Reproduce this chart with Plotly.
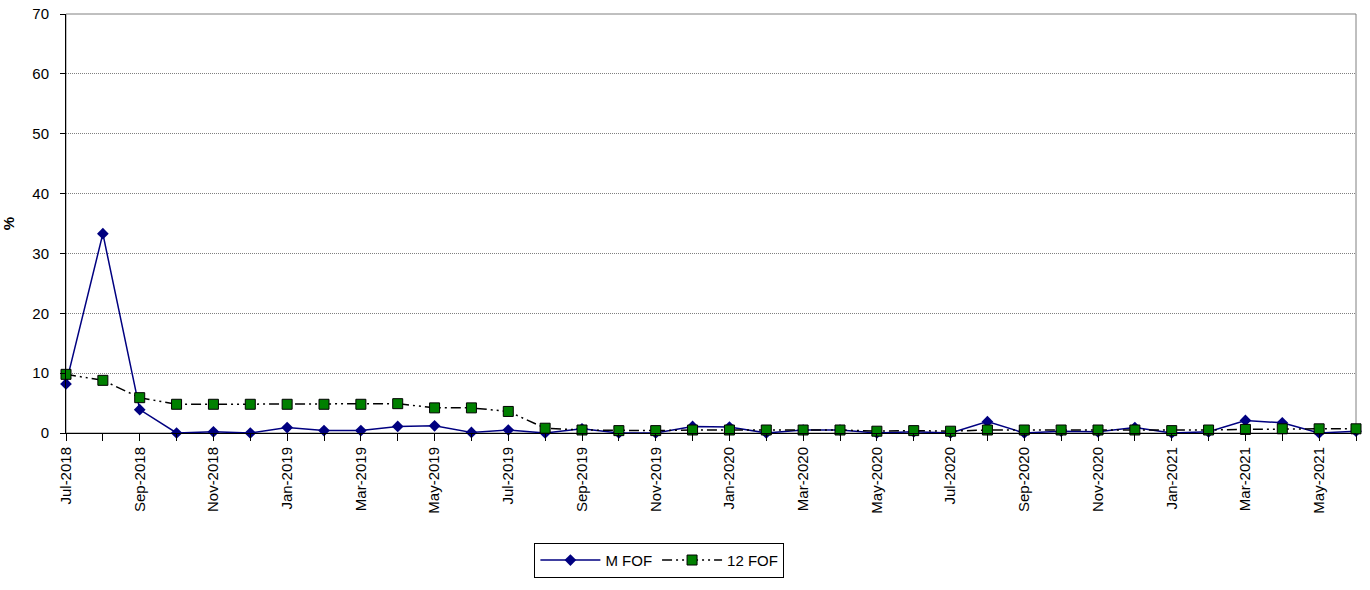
import plotly.graph_objects as go

months = [
    "Jul-2018", "Aug-2018", "Sep-2018", "Oct-2018", "Nov-2018", "Dec-2018",
    "Jan-2019", "Feb-2019", "Mar-2019", "Apr-2019", "May-2019", "Jun-2019",
    "Jul-2019", "Aug-2019", "Sep-2019", "Oct-2019", "Nov-2019", "Dec-2019",
    "Jan-2020", "Feb-2020", "Mar-2020", "Apr-2020", "May-2020", "Jun-2020",
    "Jul-2020", "Aug-2020", "Sep-2020", "Oct-2020", "Nov-2020", "Dec-2020",
    "Jan-2021", "Feb-2021", "Mar-2021", "Apr-2021", "May-2021", "Jun-2021",
]

m_fof = [
    8.2, 33.3, 3.9, 0.0, 0.2, 0.0,
    0.9, 0.4, 0.4, 1.1, 1.2, 0.1,
    0.5, 0.0, 0.7, 0.0, 0.0, 1.1,
    1.0, 0.0, 0.5, 0.5, 0.0, 0.2,
    0.0, 1.9, 0.0, 0.3, 0.2, 0.9,
    0.0, 0.2, 2.1, 1.7, 0.0, 0.3,
]

fof_12 = [
    9.8, 8.8, 5.9, 4.8, 4.8, 4.8,
    4.8, 4.8, 4.8, 4.9, 4.2, 4.2,
    3.6, 0.8, 0.5, 0.4, 0.4, 0.5,
    0.5, 0.5, 0.5, 0.5, 0.3, 0.4,
    0.3, 0.5, 0.5, 0.5, 0.5, 0.5,
    0.4, 0.5, 0.6, 0.7, 0.7, 0.7,
]

# every other month is labelled, every month gets a tick mark
tick_text = [m if i % 2 == 0 else "" for i, m in enumerate(months)]

fig = go.Figure()

fig.add_trace(go.Scatter(
    x=months, y=m_fof, name="M FOF", mode="lines+markers",
    line=dict(color="#000080", width=1.5),
    marker=dict(symbol="diamond", size=9, color="#000080"),
    cliponaxis=False,
))

fig.add_trace(go.Scatter(
    x=months, y=fof_12, name="12 FOF", mode="lines+markers",
    line=dict(color="#000000", width=1.5, dash="10px,4px,2px,4px,2px,4px"),
    marker=dict(symbol="square", size=10, color="#008000",
                line=dict(color="#000000", width=1)),
    cliponaxis=False,
))

fig.update_layout(
    width=1370, height=590,
    margin=dict(l=66, r=14, t=14, b=136),
    paper_bgcolor="white", plot_bgcolor="white",
    font=dict(family="Liberation Sans, Arial, sans-serif", size=14, color="#000000"),
    showlegend=True,
    legend=dict(
        orientation="h", x=0.46, xanchor="center", y=-0.262, yanchor="top",
        bordercolor="#000000", borderwidth=1, font=dict(size=15),
        itemwidth=60,
    ),
    shapes=[dict(
        type="rect", xref="paper", yref="paper", x0=0, x1=1, y0=0, y1=1,
        line=dict(color="#808080", width=1), layer="below",
    )],
)

fig.update_xaxes(
    type="category", categoryorder="array", categoryarray=months,
    range=[0, len(months) - 1], automargin=False,
    tickmode="array", tickvals=months, ticktext=tick_text,
    tickangle=-90, ticks="outside", ticklen=7, tickcolor="#000000",
    tickfont=dict(size=15),
    showline=True, linecolor="#000000", linewidth=1,
    showgrid=False, zeroline=False,
)

fig.update_yaxes(
    range=[0, 70], dtick=10, automargin=False,
    ticks="outside", ticklen=5, tickcolor="#000000",
    ticklabelstandoff=8, tickfont=dict(size=15),
    showline=True, linecolor="#000000", linewidth=1,
    showgrid=True, gridcolor="#808080", griddash="1px,1px", gridwidth=1,
    zeroline=False,
    title=dict(text="<b>%</b>", standoff=26, font=dict(size=15)),
)

fig.write_html("out.html")
